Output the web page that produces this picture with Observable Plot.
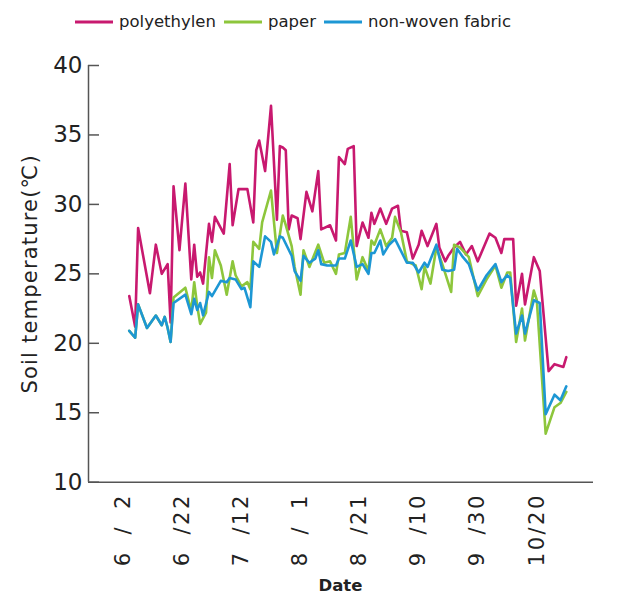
<!DOCTYPE html>
<html>
<head>
<meta charset="utf-8">
<script src="https://cdn.jsdelivr.net/npm/d3@7"></script>
<script src="https://cdn.jsdelivr.net/npm/@observablehq/plot@0.6"></script>
<style>
  html, body { margin: 0; padding: 0; background: #fff; }
  #wrap { width: 637px; height: 596px; position: relative; font-family: "DejaVu Sans", sans-serif; color: #222; }
  #legend { height: 40px; display: flex; align-items: center; padding-left: 75px; padding-top: 3px; box-sizing: border-box; font-size: 16.5px; }
  .item { display: flex; align-items: center; margin-right: 8px; }
  .item svg { margin-right: 6px; }
  #xlabel { height: 20px; line-height: 20px; text-align: center; padding-left: 88px; padding-right: 44px; font-weight: bold; font-size: 16.5px; }
</style>
</head>
<body>
<div id="wrap">
  <div id="legend"></div>
  <div id="chart"></div>
  <div id="xlabel">Date</div>
</div>
<script>
// Days counted from June 2 (day 0)
const seriesNames = ["polyethylen", "paper", "non-woven fabric"];
const seriesColors = ["#c8196f", "#8dc63c", "#1d97d4"];

const polyDays = [2,4,5,9,11,13,15,16,17,19,21,23,24,25,26,27,29,30,31,34,36,37,39,40,42,44,45,46,48,50,52,53,54,55,56,57,59,60,62,64,66,67,70,72,73,75,76,78,79,81,83,84,85,87,89,91,93,94,96,98,100,101,103,106,107,109,110,112,114,116,118,120,124,126,128,129,132,133,135,136,139,141,144,146,149,150];
const polyVals = [23.4,21.2,28.3,23.6,27.1,25.0,25.7,21.5,31.3,26.7,31.5,24.6,27.1,24.8,25.1,24.3,28.6,27.3,29.1,27.9,32.9,28.5,31.1,31.1,31.1,28.7,33.9,34.6,32.4,37.1,28.9,34.2,34.1,33.9,28.2,29.2,29.0,27.5,30.9,29.5,32.4,28.2,28.5,27.4,33.4,32.9,34.0,34.2,27.0,28.7,27.6,29.4,28.6,29.7,28.6,29.7,29.9,28.1,28.0,26.1,27.1,28.1,27.0,28.6,26.9,25.9,26.3,26.9,27.3,26.4,27.0,25.9,27.9,27.6,26.5,27.5,27.5,22.7,25.0,22.8,26.2,25.2,18.0,18.5,18.3,19.0];

const paperDays = [2,4,5,8,11,13,14,15,16,17,21,23,24,25,26,28,29,30,31,33,35,37,38,40,42,43,44,46,47,50,52,54,55,57,58,60,61,63,66,68,70,72,73,75,77,79,81,83,84,85,87,89,91,92,94,96,99,101,102,104,106,108,111,112,114,117,120,123,126,128,130,131,133,135,136,139,140,143,146,148,150];
const paperVals = [20.9,20.4,22.8,21.1,22.0,21.3,21.9,21.1,20.1,23.3,24.0,22.3,24.4,22.7,21.4,22.2,26.2,24.7,26.7,25.6,23.5,25.9,24.9,24.1,24.4,23.9,27.3,26.8,28.7,31.0,26.5,29.2,28.5,27.0,25.5,23.5,26.7,25.5,27.1,25.8,25.9,25.0,26.4,26.5,29.1,24.6,26.2,25.2,27.4,27.1,28.2,27.0,27.6,29.1,28.0,25.9,25.6,23.9,25.5,24.3,26.9,25.7,23.7,27.1,26.9,26.2,23.4,24.6,25.6,24.0,25.1,25.1,20.1,22.5,20.2,23.8,23.1,13.5,15.4,15.7,16.5];

const fabricDays = [2,4,5,8,11,13,14,15,16,17,21,23,24,25,26,27,29,30,33,35,36,38,40,41,43,44,46,48,50,51,53,54,57,58,60,61,63,65,66,67,69,72,73,75,77,79,81,83,84,85,87,88,90,92,96,98,100,102,103,106,108,110,112,113,115,117,120,123,126,128,130,131,133,135,136,139,141,143,146,148,150];
const fabricVals = [20.9,20.4,22.8,21.1,22.0,21.3,21.9,21.1,20.1,22.9,23.5,22.1,23.2,22.4,22.9,22.0,23.7,23.4,24.5,24.4,24.7,24.6,23.9,24.0,22.6,25.9,25.5,27.7,27.3,26.4,27.7,27.6,26.3,25.2,24.5,26.3,25.8,26.1,26.7,25.7,25.6,25.6,26.1,26.1,27.4,25.5,25.7,25.0,26.5,26.5,27.4,26.4,27.1,27.5,25.8,25.8,25.1,25.8,25.5,27.1,25.3,25.2,25.3,26.8,26.2,25.7,23.8,24.9,25.7,24.4,24.9,24.7,20.7,22.0,20.7,23.1,22.9,14.9,16.3,15.9,16.9];

const xTickDays = [0,20,40,60,80,100,120,140];
const xTickLabels = ["6\u2007/\u20072","6\u2007/22","7\u2007/12","8\u2007/\u20071","8\u2007/21","9\u2007/10","9\u2007/30","10/20"];
const yTicks = [10,15,20,25,30,35,40];
const yLabel = "Soil temperature(\u2103)";

const toRows = (days, vals) => days.map((d, i) => ({day: d, t: vals[i]}));
const polyData = toRows(polyDays, polyVals);
const paperData = toRows(paperDays, paperVals);
const fabricData = toRows(fabricDays, fabricVals);

const W = 637, H = 536, mL = 88, mR = 44, mT = 25, mB = 94.3;
const xDomain = [-11.8, 159.2];
const axisColor = "#555";
const tickLen = 11;

// Legend
const legend = document.getElementById("legend");
seriesNames.forEach((name, i) => {
  const item = document.createElement("div");
  item.className = "item";
  item.innerHTML = `<svg width="38" height="4"><line x1="0" y1="2" x2="38" y2="2" stroke="${seriesColors[i]}" stroke-width="3"/></svg><span>${name}</span>`;
  legend.appendChild(item);
});

const chart = Plot.plot({
  width: W,
  height: H,
  marginTop: mT,
  marginBottom: mB,
  marginLeft: mL,
  marginRight: mR,
  style: {fontFamily: "DejaVu Sans", background: "#fff", color: "#222"},
  x: {domain: xDomain},
  y: {domain: [10, 40]},
  marks: [
    Plot.line(polyData, {x: "day", y: "t", stroke: seriesColors[0], strokeWidth: 2.6}),
    Plot.line(paperData, {x: "day", y: "t", stroke: seriesColors[1], strokeWidth: 2.6}),
    Plot.line(fabricData, {x: "day", y: "t", stroke: seriesColors[2], strokeWidth: 2.6}),
    Plot.ruleX([xDomain[0]], {stroke: axisColor, strokeWidth: 1.5}),
    Plot.ruleY([10], {stroke: axisColor, strokeWidth: 1.5}),
    Plot.tickY(yTicks, {y: d => d, insetRight: (W - mL - mR) - tickLen, stroke: axisColor, strokeWidth: 1.5}),
    Plot.axisY(yTicks, {tickSize: 0, tickPadding: 6, fontSize: 23, label: null}),
    Plot.axisX(xTickDays, {tickSize: 0, tickPadding: 11, tickRotate: -90, fontSize: 21, label: null,
      tickFormat: d => xTickLabels[xTickDays.indexOf(d)]}),
    Plot.text([yLabel], {frameAnchor: "left", textAnchor: "middle", dx: -58, rotate: -90, fontSize: 21})
  ]
});
document.getElementById("chart").appendChild(chart);
chart.style.display = "block";
chart.querySelectorAll('g[aria-label="x-axis tick label"] text').forEach(t => t.setAttribute("letter-spacing", "2.5"));
chart.querySelectorAll('g[aria-label="text"] text').forEach(t => t.setAttribute("letter-spacing", "1.2"));
</script>
</body>
</html>
